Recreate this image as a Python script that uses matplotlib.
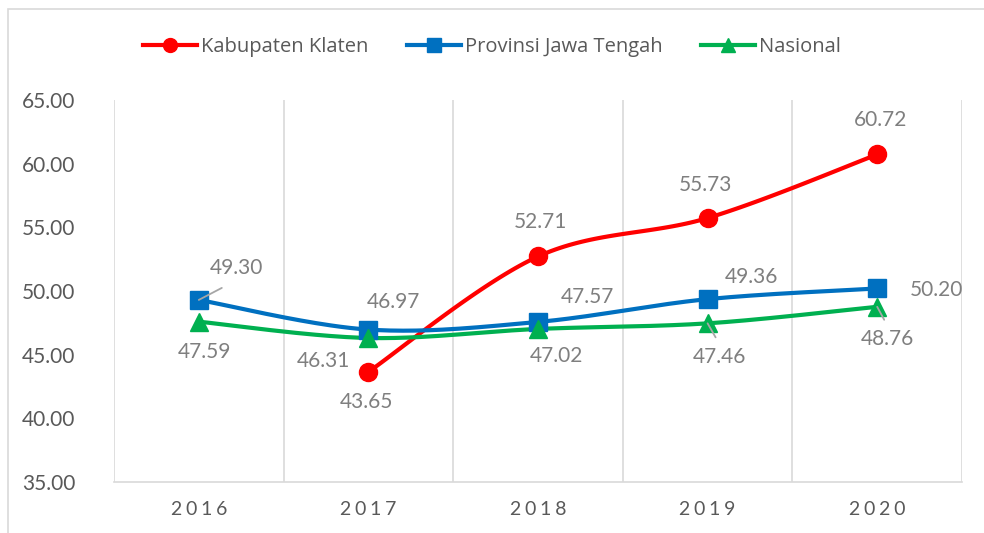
import matplotlib.pyplot as plt
import numpy as np
from matplotlib.lines import Line2D
from matplotlib.patches import Rectangle

years = ["2016", "2017", "2018", "2019", "2020"]
klaten = [np.nan, 43.65, 52.71, 55.73, 60.72]
jateng = [49.30, 46.97, 47.57, 49.36, 50.20]
nasional = [47.59, 46.31, 47.02, 47.46, 48.76]

# label offsets in pixels (dx, dy) from each marker
klaten_off = [None, (-2, -30), (2, 34), (-2, 33), (3, 34)]
jateng_off = [(38, 32), (25, 28), (49, 25), (44, 22), (59, -2)]
nasional_off = [(6, -30), (-45, -23), (18, -27), (12, -34), (10, -32)]

RED = "#FF0000"
BLUE = "#0070C0"
GREEN = "#00B050"
LABEL_GRAY = "#7F7F7F"
TICK_GRAY = "#595959"
GRID = "#D9D9D9"
NUM_FONT = ["Lato", "DejaVu Sans"]


def smooth(xs, ys, n=40):
    """Catmull-Rom style cubic Bezier through the points (like Excel's smoothed line)."""
    xs = np.asarray(xs, float)
    ys = np.asarray(ys, float)
    pts = np.column_stack([xs, ys])
    out = []
    for i in range(len(pts) - 1):
        p0 = pts[max(i - 1, 0)]
        p1 = pts[i]
        p2 = pts[i + 1]
        p3 = pts[min(i + 2, len(pts) - 1)]
        c1 = p1 + (p2 - p0) / 6.0
        c2 = p2 - (p3 - p1) / 6.0
        t = np.linspace(0, 1, n)[:, None]
        seg = (1 - t) ** 3 * p1 + 3 * (1 - t) ** 2 * t * c1 + 3 * (1 - t) * t ** 2 * c2 + t ** 3 * p2
        out.append(seg if i == 0 else seg[1:])
    seg = np.vstack(out)
    return seg[:, 0], seg[:, 1]


fig = plt.figure(figsize=(9.84, 5.33), dpi=100)
ax = fig.add_axes([114 / 984, 51 / 533, 848 / 984, 382 / 533])

# light outer frame of the chart area
fig.patches.append(Rectangle((8 / 984, -0.1), 1.2, (533 - 9) / 533 + 0.1, transform=fig.transFigure,
                             fill=False, edgecolor=GRID, lw=1.2))

x = np.arange(len(years))
series = [
    ("Kabupaten Klaten", klaten, klaten_off, RED, "o", 13),
    ("Provinsi Jawa Tengah", jateng, jateng_off, BLUE, "s", 13),
    ("Nasional", nasional, nasional_off, GREEN, "^", 13),
]

handles = []
for name, vals, offs, color, marker, ms in series:
    vals = np.asarray(vals, float)
    ok = np.isfinite(vals)
    sx, sy = smooth(x[ok], vals[ok])
    ax.plot(sx, sy, color=color, lw=3, solid_capstyle="round", zorder=3)
    ax.plot(x[ok], vals[ok], ls="none", marker=marker, ms=ms, color=color, mec=color, zorder=4)
    for xi, v, off in zip(x, vals, offs):
        if off is None or not np.isfinite(v):
            continue
        ax.annotate(f"{v:.2f}", xy=(xi, v), xytext=off, textcoords="offset pixels",
                    ha="center", va="center", fontsize=15, color=LABEL_GRAY, family=NUM_FONT, zorder=5)
    handles.append(Line2D([], [], color=color, lw=3, marker=marker, ms=10, mec=color, label=name))

# leader lines for labels pulled away from their markers
for xi, v, p in [(0, jateng[0], (23, 12)), (3, nasional[3], (8, -14)), (4, nasional[4], (7, -13))]:
    ax.annotate("", xy=(xi, v), xytext=p, textcoords="offset pixels",
                arrowprops=dict(arrowstyle="-", color="#A6A6A6", lw=1.3, shrinkA=0, shrinkB=0), zorder=5)

ax.set_xlim(-0.5, len(years) - 0.5)
ax.set_ylim(35, 65)
ax.set_yticks(np.arange(35, 65.1, 5))
ax.set_yticklabels([f"{t:.2f}" for t in np.arange(35, 65.1, 5)], family=NUM_FONT, fontsize=15, color=TICK_GRAY)
ax.set_xticks(x)
ax.set_xticklabels(["\u2009\u200a".join(y) for y in years], family=NUM_FONT, fontsize=14, color=TICK_GRAY)
ax.tick_params(axis="both", length=0)
ax.tick_params(axis="y", pad=28)
ax.tick_params(axis="x", pad=14)

for b in np.arange(-0.5, len(years), 1.0):
    ax.axvline(b, color=GRID, lw=1.2, zorder=1)
for s in ["top", "right", "left"]:
    ax.spines[s].set_visible(False)
ax.spines["bottom"].set_color(GRID)
ax.spines["bottom"].set_linewidth(1.2)

fig.legend(handles=handles, loc="center", bbox_to_anchor=(0.5, 1 - 47 / 533), ncol=3, frameon=False,
           prop={"family": ["Open Sans", "DejaVu Sans"], "size": 14.5}, labelcolor=TICK_GRAY,
           handlelength=2.7, handletextpad=0.2, columnspacing=1.9)

fig.savefig("out.png", dpi=100)
